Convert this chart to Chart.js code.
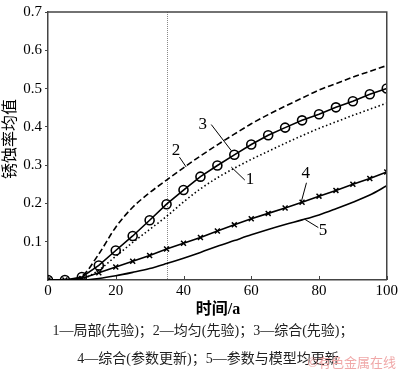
<!DOCTYPE html>
<html>
<head>
<meta charset="utf-8">
<script src="https://cdn.jsdelivr.net/npm/chart.js@4/dist/chart.umd.min.js"></script>
<style>
  body { margin: 0; background: #fff; }
  #wrap { position: relative; width: 400px; height: 371px; }
</style>
</head>
<body>
<div id="wrap"><canvas id="rustChart" width="400" height="371"></canvas></div>
<script>
// time axis (years)
const years = [0, 5, 10, 15, 20, 25, 30, 35, 40, 45, 50, 55, 60, 65, 70, 75, 80, 85, 90, 95, 100];

// 1 - local (prior), dotted
const localPrior = [0, 0, 0.003, 0.026, 0.062, 0.098, 0.132, 0.166, 0.204, 0.238, 0.267, 0.292, 0.315, 0.336, 0.357, 0.377, 0.396, 0.413, 0.43, 0.446, 0.462];
// 2 - uniform (prior), dashed
const uniformPrior = [0, 0, 0.01, 0.068, 0.138, 0.19, 0.228, 0.261, 0.293, 0.324, 0.353, 0.381, 0.408, 0.432, 0.454, 0.475, 0.496, 0.513, 0.53, 0.545, 0.56];
// 3 - combined (prior), circles
const combinedPrior = [0, 0, 0.008, 0.038, 0.077, 0.115, 0.156, 0.198, 0.235, 0.27, 0.299, 0.327, 0.354, 0.378, 0.398, 0.417, 0.433, 0.451, 0.467, 0.485, 0.5];
// 4 - combined (parameters updated), crosses
const combinedUpdated = [0, 0, 0.004, 0.019, 0.034, 0.049, 0.064, 0.081, 0.096, 0.111, 0.128, 0.144, 0.16, 0.174, 0.188, 0.203, 0.219, 0.234, 0.25, 0.265, 0.282];
// 5 - parameters and model both updated, solid
const bothUpdated = [0, 0, 0, 0.004, 0.011, 0.02, 0.03, 0.043, 0.057, 0.072, 0.088, 0.103, 0.118, 0.132, 0.145, 0.157, 0.17, 0.186, 0.203, 0.222, 0.246];

const xTicks = [0, 20, 40, 60, 80, 100];
const yTicks = [0.1, 0.2, 0.3, 0.4, 0.5, 0.6, 0.7];
const markYear = 35;

// curve labels: [text, labelX, labelY, leaderX1, leaderY1, leaderX2, leaderY2] in data units
const curveLabels = [
  ['2', 37.8, 0.338, 38.8, 0.321, 40.8, 0.295],
  ['3', 45.7, 0.406, 48.2, 0.406, 54.1, 0.338],
  ['1', 59.6, 0.262, 54.1, 0.295, 58.1, 0.261],
  ['4', 76.1, 0.278, 76.3, 0.254, 74.8, 0.205],
  ['5', 81.2, 0.128, 75.9, 0.158, 79.8, 0.137]
];

const xTitle = '时间/a';
const yTitle = '锈蚀率均值';
const captionLines = [
  '1—局部(先验)；2—均匀(先验)；3—综合(先验)；',
  '4—综合(参数更新)；5—参数与模型均更新'
];
const watermark = '©有色金属在线';

const serif = '"Liberation Serif", "Noto Sans CJK SC", serif';
const toXY = arr => arr.map((v, i) => ({ x: years[i], y: v }));

const extras = {
  id: 'extras',
  beforeDatasetsDraw(chart) {
    const { ctx, chartArea: a, scales: { x } } = chart;
    ctx.save();
    // dotted marker line
    const mx = Math.round(x.getPixelForValue(markYear)) + 0.5;
    ctx.strokeStyle = '#888';
    ctx.lineWidth = 1;
    ctx.setLineDash([1, 1]);
    ctx.beginPath();
    ctx.moveTo(mx, a.top);
    ctx.lineTo(mx, a.bottom);
    ctx.stroke();
    ctx.setLineDash([]);
    // inward ticks on the time axis
    ctx.strokeStyle = '#444';
    xTicks.forEach(v => {
      const px = Math.round(x.getPixelForValue(v)) + 0.5;
      ctx.beginPath();
      ctx.moveTo(px, a.bottom);
      ctx.lineTo(px, a.bottom - 4);
      ctx.stroke();
    });
    ctx.restore();
  },
  afterDraw(chart) {
    const { ctx, chartArea: a, scales: { x, y } } = chart;
    ctx.save();
    // top and right frame
    ctx.strokeStyle = '#444';
    ctx.lineWidth = 1.5;
    ctx.beginPath();
    ctx.moveTo(a.left, a.top);
    ctx.lineTo(a.right, a.top);
    ctx.lineTo(a.right, a.bottom);
    ctx.stroke();

    // curve labels
    ctx.fillStyle = '#000';
    ctx.strokeStyle = '#000';
    ctx.lineWidth = 1;
    ctx.font = '17px ' + serif;
    ctx.textAlign = 'center';
    ctx.textBaseline = 'middle';
    curveLabels.forEach(([t, lx, ly, x1, y1, x2, y2]) => {
      ctx.fillText(t, x.getPixelForValue(lx), y.getPixelForValue(ly));
      ctx.beginPath();
      ctx.moveTo(x.getPixelForValue(x1), y.getPixelForValue(y1));
      ctx.lineTo(x.getPixelForValue(x2), y.getPixelForValue(y2));
      ctx.stroke();
    });

    // axis titles
    ctx.font = 'bold 16px ' + serif;
    ctx.fillText(xTitle, 218, 310);
    ctx.save();
    ctx.translate(11, 139);
    ctx.rotate(-Math.PI / 2);
    ctx.font = '16px ' + serif;
    ctx.fillText(yTitle, 0, 0);
    ctx.restore();

    // caption
    ctx.fillStyle = '#222';
    ctx.font = '14px ' + serif;
    ctx.fillText(captionLines[0], 203, 331);
    ctx.fillText(captionLines[1], 208, 359);

    ctx.fillStyle = '#f0a8a8';
    ctx.font = '13px "Noto Sans CJK SC", sans-serif';
    ctx.textAlign = 'right';
    ctx.fillText(watermark, 396, 362);
    ctx.restore();
  }
};

const ctx = document.getElementById('rustChart').getContext('2d');
new Chart(ctx, {
  type: 'line',
  data: {
    datasets: [
      {
        label: '1', data: toXY(localPrior),
        borderColor: '#000', borderWidth: 1.6, borderDash: [1.5, 2.5],
        pointRadius: 0, cubicInterpolationMode: 'monotone'
      },
      {
        label: '2', data: toXY(uniformPrior),
        borderColor: '#000', borderWidth: 1.6, borderDash: [6, 3],
        pointRadius: 0, cubicInterpolationMode: 'monotone'
      },
      {
        label: '3', data: toXY(combinedPrior),
        borderColor: '#000', borderWidth: 1.6,
        pointStyle: 'circle', pointRadius: 4.5, pointBorderWidth: 1.6,
        pointBackgroundColor: 'rgba(0,0,0,0)', pointBorderColor: '#000',
        tension: 0
      },
      {
        label: '4', data: toXY(combinedUpdated),
        borderColor: '#000', borderWidth: 1.6,
        pointStyle: 'crossRot', pointRadius: 3.5, pointBorderWidth: 1.5,
        pointBorderColor: '#000', tension: 0
      },
      {
        label: '5', data: toXY(bothUpdated),
        borderColor: '#000', borderWidth: 1.6,
        pointRadius: 0, cubicInterpolationMode: 'monotone'
      }
    ]
  },
  options: {
    responsive: false,
    animation: false,
    layout: { padding: { top: 7, right: 13, left: 0, bottom: 0 } },
    scales: {
      x: {
        type: 'linear', min: 0, max: 100,
        afterFit: s => { s.height = 91; },
        afterBuildTicks: s => { s.ticks = xTicks.map(v => ({ value: v })); },
        ticks: { color: '#000', font: { family: serif, size: 15 }, padding: 2, maxRotation: 0 },
        grid: { drawOnChartArea: false, drawTicks: false, color: '#444' },
        border: { color: '#444', width: 1.5 }
      },
      y: {
        min: 0, max: 0.7,
        afterFit: s => { s.width = 48; },
        afterBuildTicks: s => { s.ticks = yTicks.map(v => ({ value: v })); },
        ticks: {
          color: '#000', font: { family: serif, size: 15 }, padding: 3,
          callback: v => v.toFixed(1)
        },
        grid: { drawOnChartArea: false, drawTicks: true, tickLength: 3, color: '#444' },
        border: { color: '#444', width: 1.5 }
      }
    },
    plugins: {
      legend: { display: false },
      tooltip: { enabled: false }
    }
  },
  plugins: [extras]
});
</script>
</body>
</html>
